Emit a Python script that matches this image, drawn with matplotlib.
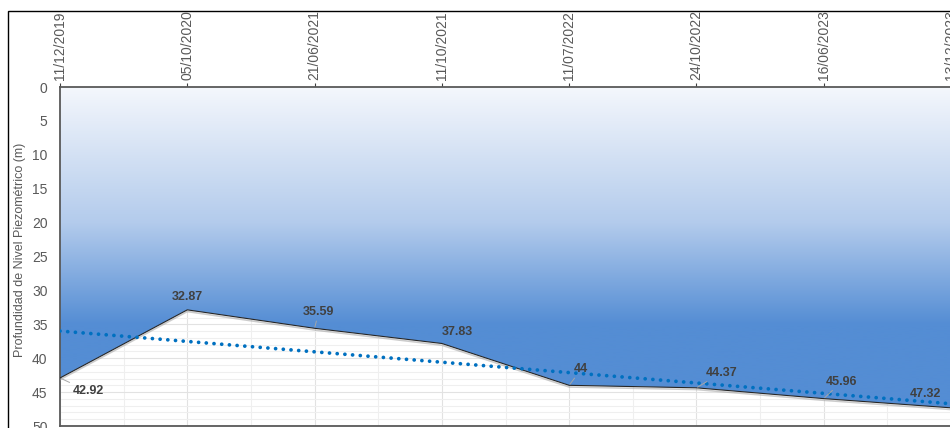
import numpy as np
import matplotlib
matplotlib.use("Agg")
import matplotlib.pyplot as plt
from matplotlib.patches import Rectangle
from matplotlib.colors import LinearSegmentedColormap

# fechas de medición y profundidad del nivel piezométrico (m)
fechas = ["11/12/2019", "05/10/2020", "21/06/2021", "11/10/2021",
          "11/07/2022", "24/10/2022", "16/06/2023", "13/12/2023"]
profundidad = [42.92, 32.87, 35.59, 37.83, 44.00, 44.37, 45.96, 47.32]
etiquetas = ["42.92", "32.87", "35.59", "37.83", "44", "44.37", "45.96", "47.32"]
# desplazamiento de cada etiqueta (px) respecto al punto
offsets = [(28, -13), (0, 13), (4, 16), (16, 11), (12, 16), (25, 15), (18, 17), (-26, 14)]
leaders = [True, False, True, False, True, True, True, False]

plt.rcParams['font.family'] = ['Liberation Sans', 'DejaVu Sans']

W, H = 950, 428
fig = plt.figure(figsize=(W / 100, H / 100), dpi=100)
x0, x1 = 60, 951
ytop, ybot = 87, 426
ax = fig.add_axes([x0 / W, (H - ybot) / H, (x1 - x0) / W, (ybot - ytop) / H])

x = np.arange(len(fechas))
y = np.array(profundidad)

# grid
ax.set_axisbelow(True)
ax.set_xticks(x)
ax.set_xticks(x[:-1] + 0.5, minor=True)
ax.set_yticks(np.arange(0, 51, 5))
ax.set_yticks(np.arange(0, 51, 1), minor=True)
ax.grid(which='major', color='#e2e2e2', linewidth=0.8)
ax.grid(which='minor', color='#efefef', linewidth=0.8)

# area with vertical gradient
poly = ax.fill_between(x, 0, y, facecolor='none', edgecolor='none', zorder=2)
cmap = LinearSegmentedColormap.from_list(
    'grad', [(0.0, '#f4f7fc'), (0.40, '#b3cbec'), (0.70, '#548dd4'), (1.0, '#548dd4')])
grad = np.linspace(0, 1, 256).reshape(-1, 1)
img = ax.imshow(grad, cmap=cmap, aspect='auto', extent=(0, 7, 0, 50),
                origin='lower', zorder=2, interpolation='bicubic')
img.set_clip_path(poly.get_paths()[0], transform=ax.transData)
ax.plot(x, y + 0.25, color='#9a9a9a', linewidth=1.2, alpha=0.5, zorder=3)
ax.plot(x, y, color='#262626', linewidth=0.8, zorder=3)

# linear trend
coef = np.polyfit(x, y, 1)
xt = np.array([0, 7.2])
ax.plot(xt, np.polyval(coef, xt), color='#0070c0', linewidth=2.7,
        linestyle=(0, (0.01, 2.05)), dash_capstyle='round', zorder=4)

# data labels
for xi, yi, lab, off, ld in zip(x, y, etiquetas, offsets, leaders):
    ax.annotate(lab, (xi, yi), xytext=off, textcoords='offset pixels',
                ha='center', va='center', fontsize=9, fontweight='bold',
                color='#404040', family=['Liberation Sans Narrow', 'Liberation Sans'],
                zorder=5,
                arrowprops=dict(arrowstyle='-', color='#a6a6a6', linewidth=0.7,
                                shrinkA=0, shrinkB=1) if ld else None)

ax.set_xlim(0, 7)
ax.set_ylim(50, 0)

ax.xaxis.tick_top()
ax.set_xticklabels(fechas, rotation=90, fontsize=10, color='#595959')
ax.tick_params(axis='x', which='major', length=3, color='#404040', pad=2)
ax.tick_params(axis='x', which='minor', length=0)
ax.tick_params(axis='y', which='both', length=0, labelsize=10, labelcolor='#595959', pad=9)
ax.set_ylabel('Profundidad de Nivel Piezométrico (m)', fontsize=9, color='#595959', labelpad=4)
ax.yaxis.label.set_y(0.52)

for side in ['top', 'left', 'bottom']:
    ax.spines[side].set_color('#595959')
    ax.spines[side].set_linewidth(1.3)
ax.spines['right'].set_visible(False)

# outer chart frame
fig.add_artist(Rectangle((8 / W, -0.1), 1.2, 1.1 - 11 / H, transform=fig.transFigure,
                         fill=False, edgecolor='#000000', linewidth=1.0))

fig.savefig('out.png', dpi=100)
